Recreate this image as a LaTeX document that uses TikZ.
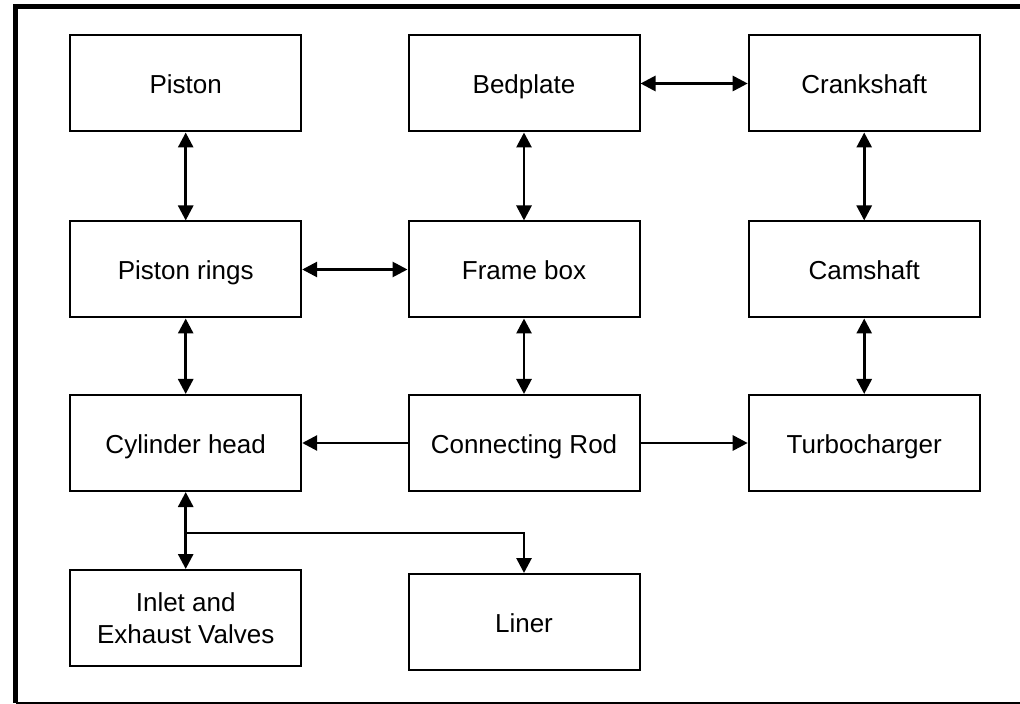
\documentclass[tikz,border=0pt]{standalone}
\usepackage{fontspec}
\setmainfont{Liberation Sans}
\usetikzlibrary{arrows.meta}

\begin{document}
\begin{tikzpicture}[x=0.5pt,y=-0.5pt,>={Triangle[length=7.5pt,width=7.5pt]},
  base/.style={draw,line width=1pt,minimum width=115.5pt,minimum height=48pt,
    inner sep=0pt,align=center,font=\fontsize{13}{16}\selectfont},
  blk/.style={base,text height=12pt,text depth=1.5pt},
  link/.style={line width=1.4pt}]
  \useasboundingbox (0,0) rectangle (1020,704);
  % Outer frame
  \draw[line width=2.5pt] (1020,6.5) -| (15.8,703);
  \draw[line width=1pt] (15.8,702.5) -- (1020,702.5);
  % Blocks
  \node[blk] (piston) at (185.7,83.5) {Piston};
  \node[blk] (bed) at (524,83.5) {Bedplate};
  \node[blk] (crank) at (864.2,83.5) {Crankshaft};
  \node[blk] (rings) at (185.7,269.5) {Piston rings};
  \node[blk] (frame) at (524,269.5) {Frame box};
  \node[blk] (cam) at (864.2,269.5) {Camshaft};
  \node[blk] (cyl) at (185.7,443) {Cylinder head};
  \node[blk] (rod) at (524,443) {Connecting Rod};
  \node[blk] (turbo) at (864.2,443) {Turbocharger};
  \node[base] (valves) at (185.7,618) {Inlet and\\Exhaust Valves};
  \node[blk] (liner) at (524,622) {Liner};
  % Connections
  \draw[link,<->] (piston) -- (rings);
  \draw[link,<->] (rings) -- (cyl);
  \draw[link,<->] (rings) -- (frame);
  \draw[link,<->] (bed) -- (frame);
  \draw[link,<->] (bed) -- (crank);
  \draw[link,<->] (crank) -- (cam);
  \draw[link,<->] (cam) -- (turbo);
  \draw[link,<->] (frame) -- (rod);
  \draw[link,->] (rod) -- (cyl);
  \draw[link,->] (rod) -- (turbo);
  \draw[link,<->] (cyl) -- (valves);
  \coordinate (split) at (185.7,533);
  \draw[link,->] (split) -| (liner.north);
\end{tikzpicture}
\end{document}
